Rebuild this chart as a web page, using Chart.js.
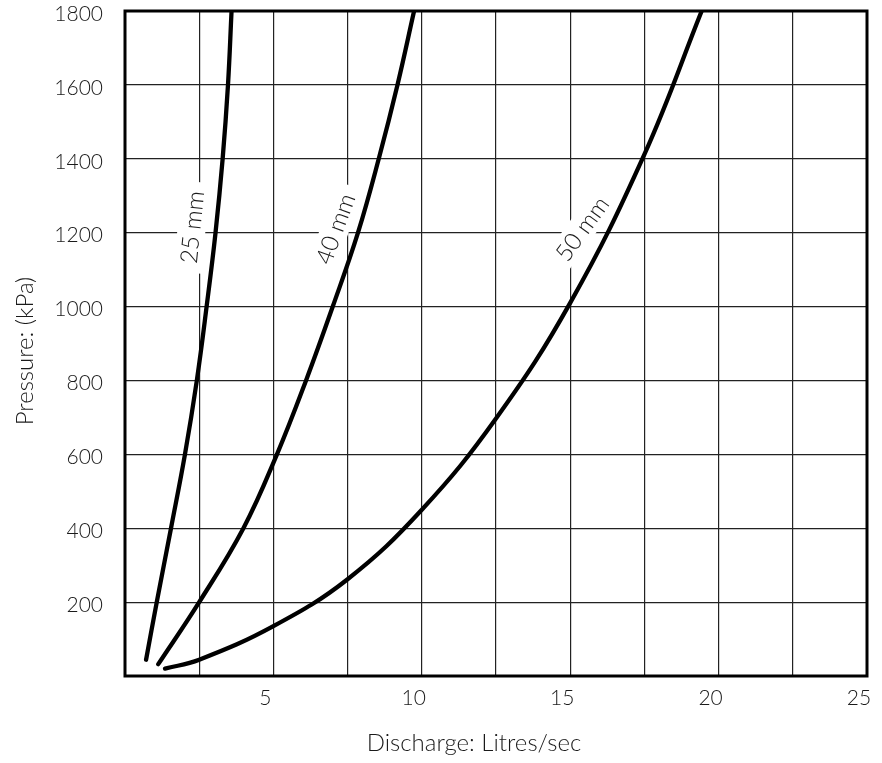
<!DOCTYPE html>
<html>
<head>
<meta charset="utf-8">
<title>Pressure / Discharge</title>
<script src="https://cdn.jsdelivr.net/npm/chart.js"></script>
<style>
  html, body { margin: 0; padding: 0; background: #fff; }
  #wrap { width: 882px; height: 763px; position: relative; }
</style>
</head>
<body>
<div id="wrap"><canvas id="hoseChart"></canvas></div>
<script>
  // readings taken off the chart: discharge in litres/sec, pressure in kPa
  const hoseSizes = ['25 mm', '40 mm', '50 mm'];
  const discharge25 = [0.71, 1.07, 1.55, 2.02, 2.42, 2.75, 3.05, 3.29, 3.47, 3.59];
  const pressure25  = [44, 200, 400, 600, 800, 1000, 1200, 1400, 1600, 1800];
  const discharge40 = [1.12, 2.5, 3.99, 5.12, 6.1, 7.0, 7.85, 8.55, 9.18, 9.74];
  const pressure40  = [32, 200, 400, 600, 800, 1000, 1200, 1400, 1600, 1800];
  const discharge50 = [1.35, 2.5, 5, 7.5, 10, 12.5, 15, 17.5, 19.43];
  const pressure50  = [20, 44, 135, 262, 450, 697, 1010, 1412, 1800];

  const xTickLabels = [5, 10, 15, 20, 25];
  const yTickLabels = [200, 400, 600, 800, 1000, 1200, 1400, 1600, 1800];

  const xTitle = 'Discharge: Litres/sec';
  const yTitle = 'Pressure: (kPa)';

  // where the size labels sit along each curve (data units) and their tilt
  const curveLabels = [
    { text: hoseSizes[0], x: 2.25, y: 1215, angle: -84 },
    { text: hoseSizes[1], x: 7.08, y: 1211, angle: -70 },
    { text: hoseSizes[2], x: 15.39, y: 1211, angle: -54 }
  ];

  const ink = '#1a1a1a';
  const textFont = '300 24px Lato';

  function toPoints(xs, ys) {
    return xs.map((v, i) => ({ x: v, y: ys[i] }));
  }

  const hoseLabels = {
    id: 'hoseLabels',
    beforeDatasetsDraw(chart) {
      const { ctx, scales: { x, y } } = chart;
      ctx.save();
      ctx.font = textFont;
      ctx.textAlign = 'center';
      ctx.textBaseline = 'middle';
      curveLabels.forEach(l => {
        const w = ctx.measureText(l.text).width;
        ctx.save();
        ctx.translate(x.getPixelForValue(l.x), y.getPixelForValue(l.y));
        ctx.rotate(l.angle * Math.PI / 180);
        ctx.fillStyle = '#fff';
        ctx.fillRect(-w / 2 - 9, -14, w + 18, 28);
        ctx.fillStyle = ink;
        ctx.fillText(l.text, 0, 1);
        ctx.restore();
      });
      ctx.restore();
    },
    afterDatasetsDraw(chart) {
      const { ctx, chartArea: a } = chart;
      ctx.save();
      ctx.strokeStyle = '#000';
      ctx.lineWidth = 3;
      ctx.strokeRect(a.left, a.top, a.right - a.left, a.bottom - a.top);
      ctx.restore();
    },
    afterDraw(chart) {
      const { ctx } = chart;
      ctx.save();
      ctx.font = textFont;
      ctx.fillStyle = ink;
      ctx.textAlign = 'center';
      ctx.textBaseline = 'middle';
      ctx.fillText(xTitle, 474, 743);
      ctx.translate(25, 351);
      ctx.rotate(-Math.PI / 2);
      ctx.fillText(yTitle, 0, 0);
      ctx.restore();
    }
  };

  const lineStyle = {
    borderColor: '#000',
    borderWidth: 4.3,
    borderCapStyle: 'round',
    pointRadius: 0,
    showLine: true,
    tension: 0.4
  };

  new Chart(document.getElementById('hoseChart'), {
    type: 'scatter',
    data: {
      datasets: [
        { label: hoseSizes[0], data: toPoints(discharge25, pressure25), ...lineStyle },
        { label: hoseSizes[1], data: toPoints(discharge40, pressure40), ...lineStyle },
        { label: hoseSizes[2], data: toPoints(discharge50, pressure50), ...lineStyle }
      ]
    },
    plugins: [hoseLabels],
    options: {
      responsive: true,
      maintainAspectRatio: false,
      animation: false,
      layout: { padding: { top: 11, right: 15, bottom: 0, left: 0 } },
      plugins: { legend: { display: false }, tooltip: { enabled: false } },
      scales: {
        x: {
          type: 'linear',
          min: 0,
          max: 25,
          border: { display: false },
          grid: { color: '#222', lineWidth: 1.2, drawTicks: false },
          ticks: {
            stepSize: 2.5,
            autoSkip: false,
            maxRotation: 0,
            padding: 10,
            labelOffset: -8,
            color: ink,
            font: { family: 'Lato', size: 21, weight: 300 },
            callback: v => xTickLabels.includes(v) ? String(v) : ''
          },
          afterFit(s) { s.height = 87; s.paddingLeft = 0; s.paddingRight = 0; }
        },
        y: {
          type: 'linear',
          min: 0,
          max: 1800,
          border: { display: false },
          grid: { color: '#222', lineWidth: 1.2, drawTicks: false },
          ticks: {
            stepSize: 200,
            autoSkip: false,
            padding: 22,
            labelOffset: 3,
            color: ink,
            font: { family: 'Lato', size: 21, weight: 300 },
            callback: v => yTickLabels.includes(v) ? String(v) : ''
          },
          afterFit(s) { s.width = 125; s.paddingTop = 0; s.paddingBottom = 0; }
        }
      }
    }
  });
</script>
</body>
</html>
